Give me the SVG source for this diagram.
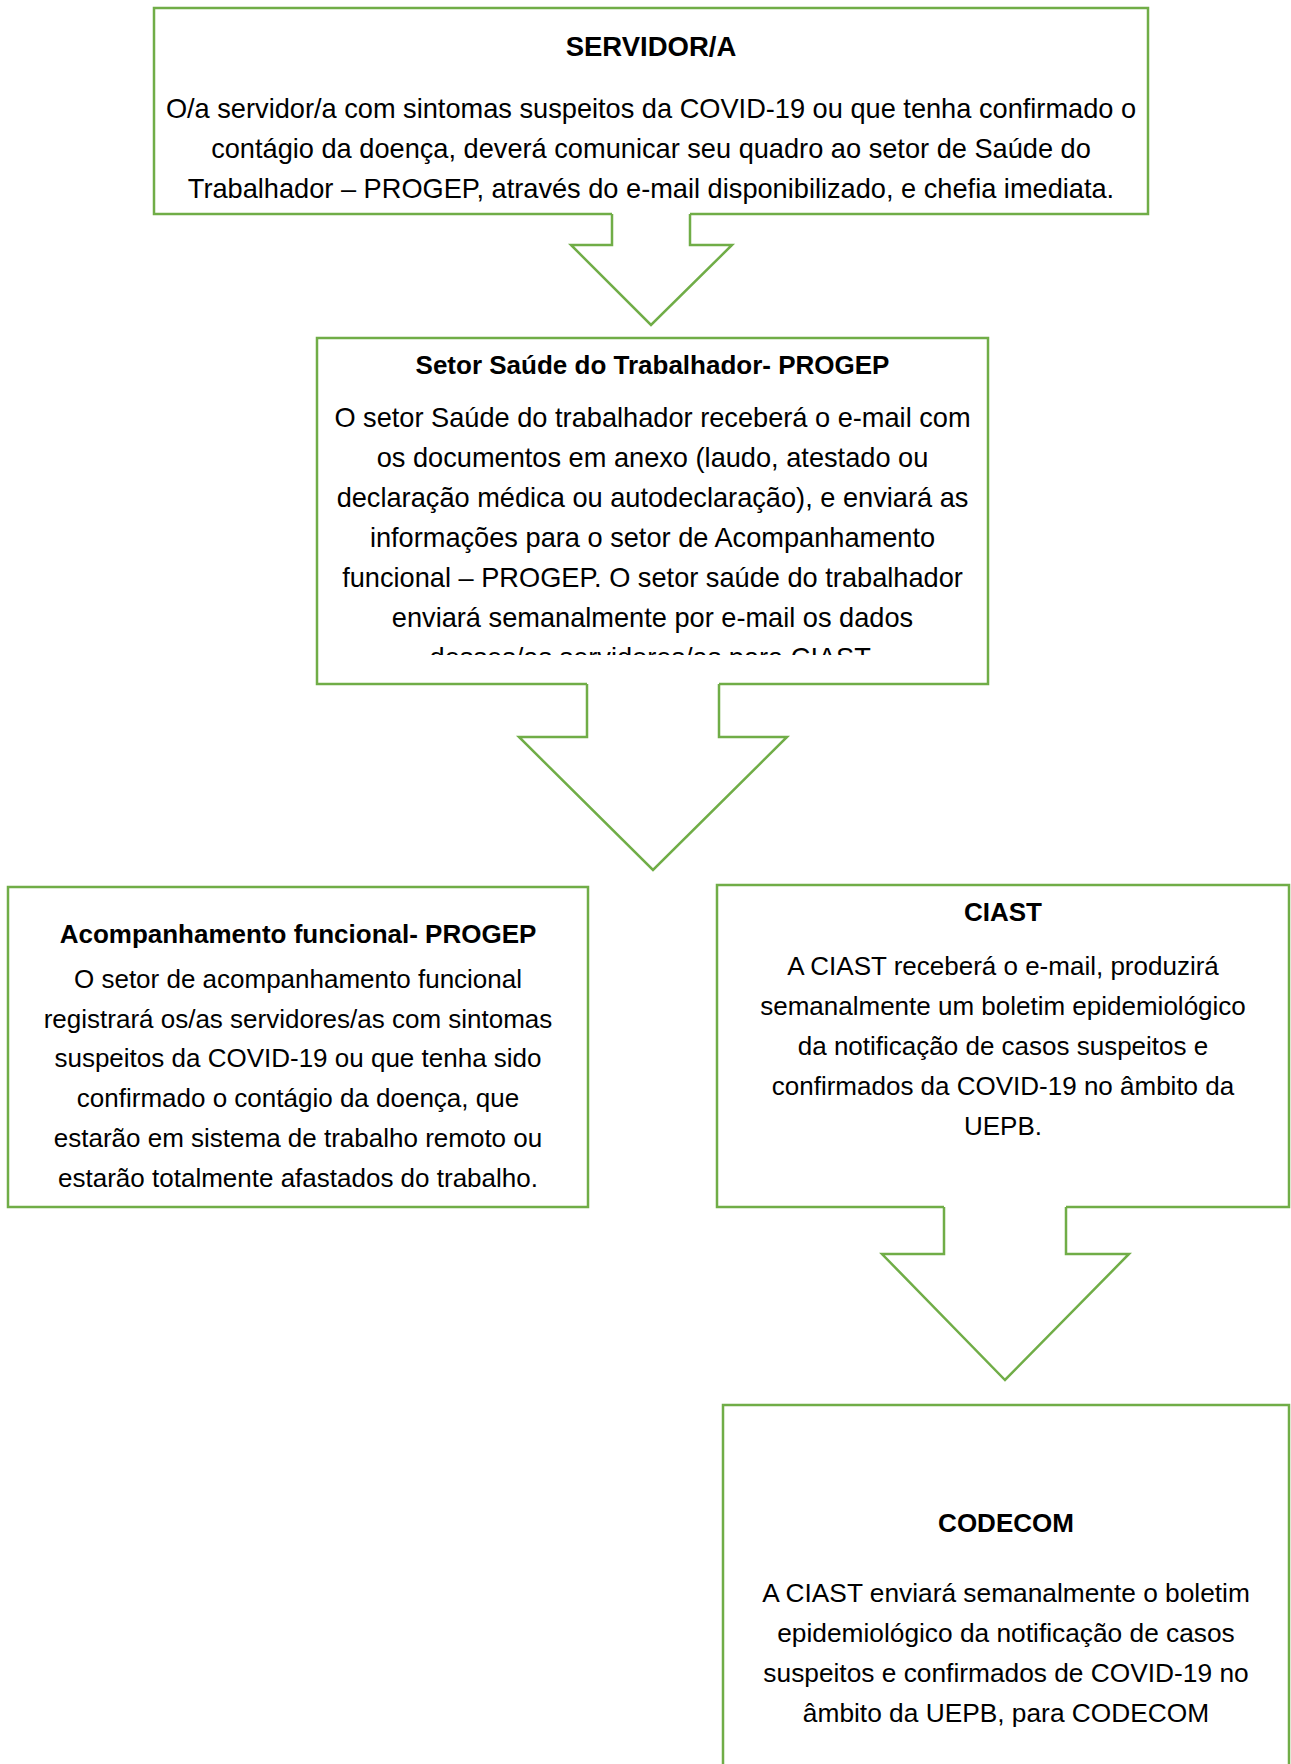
<svg xmlns="http://www.w3.org/2000/svg" width="1291" height="1764" viewBox="0 0 1291 1764">
<style>
.box{fill:#fff;stroke:#70AD47;stroke-width:2.5}
.afill{fill:#fff;stroke:none}
.aline{fill:none;stroke:#70AD47;stroke-width:2.5;stroke-linejoin:miter}
.t{font-family:"Liberation Sans",Arial,sans-serif;font-size:26px;fill:#000;text-anchor:middle}
.lg{font-size:27.2px}
.b{font-weight:bold}
</style>
<defs>
<clipPath id="clip2"><rect x="317" y="338" width="671" height="317"/></clipPath>
</defs>
<rect width="1291" height="1764" fill="#fff"/>
<g id="node-servidor">
<rect class="box" x="154" y="8" width="994" height="206"/>
<text class="t b" x="651" y="56" style="font-size:27.5px">SERVIDOR/A</text>
<text class="t lg" x="651" y="118">O/a servidor/a com sintomas suspeitos da COVID-19 ou que tenha confirmado o</text>
<text class="t lg" x="651" y="158">contágio da doença, deverá comunicar seu quadro ao setor de Saúde do</text>
<text class="t lg" x="651" y="198">Trabalhador – PROGEP, através do e-mail disponibilizado, e chefia imediata.</text>
</g>
<g id="node-saude">
<rect class="box" x="317" y="338" width="671" height="346"/>
<text class="t b" x="652.5" y="374">Setor Saúde do Trabalhador- PROGEP</text>
<g clip-path="url(#clip2)">
<text class="t lg" x="652.5" y="427">O setor Saúde do trabalhador receberá o e-mail com</text>
<text class="t lg" x="652.5" y="467">os documentos em anexo (laudo, atestado ou</text>
<text class="t lg" x="652.5" y="507">declaração médica ou autodeclaração), e enviará as</text>
<text class="t lg" x="652.5" y="547">informações para o setor de Acompanhamento</text>
<text class="t lg" x="652.5" y="587">funcional – PROGEP. O setor saúde do trabalhador</text>
<text class="t lg" x="652.5" y="627">enviará semanalmente por e-mail os dados</text>
<text class="t lg" x="652.5" y="667">desses/as servidores/as para CIAST.</text>
</g>
</g>
<g id="node-acompanhamento">
<rect class="box" x="8" y="887" width="580" height="320"/>
<text class="t b" x="298" y="943">Acompanhamento funcional- PROGEP</text>
<text class="t" x="298" y="988">O setor de acompanhamento funcional</text>
<text class="t" x="298" y="1028">registrará os/as servidores/as com sintomas</text>
<text class="t" x="298" y="1067">suspeitos da COVID-19 ou que tenha sido</text>
<text class="t" x="298" y="1107">confirmado o contágio da doença, que</text>
<text class="t" x="298" y="1147">estarão em sistema de trabalho remoto ou</text>
<text class="t" x="298" y="1187">estarão totalmente afastados do trabalho.</text>
</g>
<g id="node-ciast">
<rect class="box" x="717" y="885" width="572" height="322"/>
<text class="t b" x="1003" y="921">CIAST</text>
<text class="t" x="1003" y="975">A CIAST receberá o e-mail, produzirá</text>
<text class="t" x="1003" y="1015">semanalmente um boletim epidemiológico</text>
<text class="t" x="1003" y="1055">da notificação de casos suspeitos e</text>
<text class="t" x="1003" y="1095">confirmados da COVID-19 no âmbito da</text>
<text class="t" x="1003" y="1135">UEPB.</text>
</g>
<g id="node-codecom">
<rect class="box" x="723" y="1405" width="566" height="400"/>
<text class="t b" x="1006" y="1532">CODECOM</text>
<text class="t" x="1006" y="1602" style="font-size:26.3px">A CIAST enviará semanalmente o boletim</text>
<text class="t" x="1006" y="1642" style="font-size:26.3px">epidemiológico da notificação de casos</text>
<text class="t" x="1006" y="1682" style="font-size:26.3px">suspeitos e confirmados de COVID-19 no</text>
<text class="t" x="1006" y="1722" style="font-size:26.3px">âmbito da UEPB, para CODECOM</text>
</g>
<g id="connectors">
<polygon class="afill" points="612,210 690,210 690,245 732,245 651,325 571,245 612,245"/>
<polyline class="aline" points="612,214 612,245 571,245 651,325 732,245 690,245 690,214"/>
<polygon class="afill" points="587,680 719,680 719,737 787,737 653,870 519,737 587,737"/>
<polyline class="aline" points="587,684 587,737 519,737 653,870 787,737 719,737 719,684"/>
<polygon class="afill" points="944,1203 1066,1203 1066,1254 1129,1254 1005,1380 882,1254 944,1254"/>
<polyline class="aline" points="944,1207 944,1254 882,1254 1005,1380 1129,1254 1066,1254 1066,1207"/>
</g>
</svg>
